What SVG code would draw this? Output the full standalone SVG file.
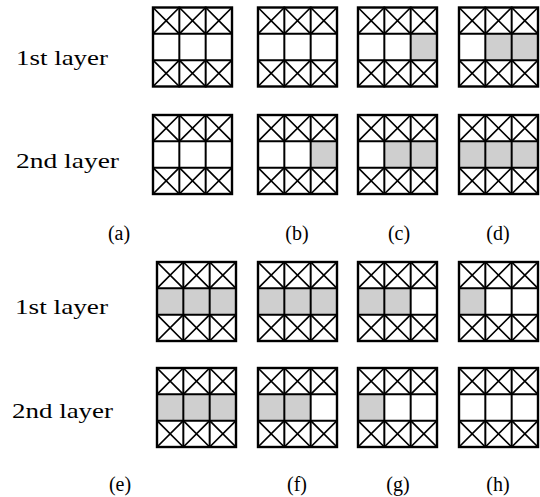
<svg xmlns="http://www.w3.org/2000/svg" xmlns:xlink="http://www.w3.org/1999/xlink" width="540" height="497" viewBox="0 0 540 497">
<style>
.bg{fill:#ffffff}
.sh{fill:#cfcfcf}
.ln{stroke:#000;stroke-width:2;fill:none;stroke-linecap:square}
.ol{stroke:#000;stroke-width:2.4;fill:none}
.dg{stroke:#000;stroke-width:1.7;fill:none}
.lbl{font-family:"Liberation Serif","Times New Roman",serif;font-size:22px;fill:#000}
.cap{font-family:"Liberation Serif","Times New Roman",serif;font-size:20px;fill:#000;text-anchor:middle}
</style>
<defs>
<g id="grid">
<path class="dg" d="M0,0L26.33,26.33M26.33,0L0,26.33M26.33,0L52.67,26.33M52.67,0L26.33,26.33M52.67,0L79,26.33M79,0L52.67,26.33M0,52.67L26.33,79M26.33,52.67L0,79M26.33,52.67L52.67,79M52.67,52.67L26.33,79M52.67,52.67L79,79M79,52.67L52.67,79"/>
<path class="ln" d="M26.33,0V79M52.67,0V79M0,26.33H79M0,52.67H79"/>
<rect class="ol" x="0" y="0" width="79" height="79"/>
</g>
<rect id="c1" class="sh" x="0" y="26.33" width="26.33" height="26.34"/>
<rect id="c2" class="sh" x="26.33" y="26.33" width="26.34" height="26.34"/>
<rect id="c3" class="sh" x="52.67" y="26.33" width="26.33" height="26.34"/>
</defs>
<rect class="bg" x="0" y="0" width="540" height="497"/>

<g id="labels">
<text class="lbl" x="16" y="65" textLength="92" lengthAdjust="spacingAndGlyphs">1st layer</text>
<text class="lbl" x="16" y="168" textLength="103" lengthAdjust="spacingAndGlyphs">2nd layer</text>
<text class="lbl" x="15" y="314" textLength="93" lengthAdjust="spacingAndGlyphs">1st layer</text>
<text class="lbl" x="12" y="418" textLength="101" lengthAdjust="spacingAndGlyphs">2nd layer</text>
</g>

<g id="panel-a">
<g transform="translate(153,7.5)"><use xlink:href="#grid"/></g>
<g transform="translate(153,115)"><use xlink:href="#grid"/></g>
<text class="cap" x="119" y="240">(a)</text>
</g>

<g id="panel-b">
<g transform="translate(258,7.5)"><use xlink:href="#grid"/></g>
<g transform="translate(258,115)"><use xlink:href="#c3"/><use xlink:href="#grid"/></g>
<text class="cap" x="297" y="240">(b)</text>
</g>

<g id="panel-c">
<g transform="translate(358,7.5)"><use xlink:href="#c3"/><use xlink:href="#grid"/></g>
<g transform="translate(358,115)"><use xlink:href="#c2"/><use xlink:href="#c3"/><use xlink:href="#grid"/></g>
<text class="cap" x="399" y="240">(c)</text>
</g>

<g id="panel-d">
<g transform="translate(459,7.5)"><use xlink:href="#c2"/><use xlink:href="#c3"/><use xlink:href="#grid"/></g>
<g transform="translate(459,115)"><use xlink:href="#c1"/><use xlink:href="#c2"/><use xlink:href="#c3"/><use xlink:href="#grid"/></g>
<text class="cap" x="498" y="240">(d)</text>
</g>

<g id="panel-e">
<g transform="translate(157,262)"><use xlink:href="#c1"/><use xlink:href="#c2"/><use xlink:href="#c3"/><use xlink:href="#grid"/></g>
<g transform="translate(157,368)"><use xlink:href="#c1"/><use xlink:href="#c2"/><use xlink:href="#c3"/><use xlink:href="#grid"/></g>
<text class="cap" x="120" y="491">(e)</text>
</g>

<g id="panel-f">
<g transform="translate(258,262)"><use xlink:href="#c1"/><use xlink:href="#c2"/><use xlink:href="#c3"/><use xlink:href="#grid"/></g>
<g transform="translate(258,368)"><use xlink:href="#c1"/><use xlink:href="#c2"/><use xlink:href="#grid"/></g>
<text class="cap" x="297" y="491">(f)</text>
</g>

<g id="panel-g">
<g transform="translate(358,262)"><use xlink:href="#c1"/><use xlink:href="#c2"/><use xlink:href="#grid"/></g>
<g transform="translate(358,368)"><use xlink:href="#c1"/><use xlink:href="#grid"/></g>
<text class="cap" x="398" y="491">(g)</text>
</g>

<g id="panel-h">
<g transform="translate(459,262)"><use xlink:href="#c1"/><use xlink:href="#grid"/></g>
<g transform="translate(459,368)"><use xlink:href="#grid"/></g>
<text class="cap" x="498" y="491">(h)</text>
</g>

<g id="connectors"></g>
</svg>
